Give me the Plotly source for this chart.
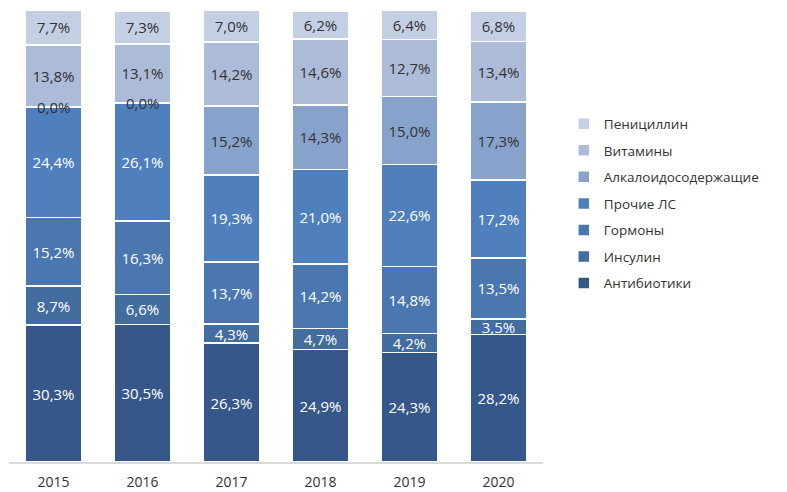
import plotly.graph_objects as go

years = ["2015", "2016", "2017", "2018", "2019", "2020"]

series_names = ["Антибиотики", "Инсулин", "Гормоны", "Прочие ЛС",
                "Алкалоидосодержащие", "Витамины", "Пенициллин"]

antibiotiki = [30.3, 30.5, 26.3, 24.9, 24.3, 28.2]
insulin = [8.7, 6.6, 4.3, 4.7, 4.2, 3.5]
gormony = [15.2, 16.3, 13.7, 14.2, 14.8, 13.5]
prochie = [24.4, 26.1, 19.3, 21.0, 22.6, 17.2]
alkaloid = [0.0, 0.0, 15.2, 14.3, 15.0, 17.3]
vitaminy = [13.8, 13.1, 14.2, 14.6, 12.7, 13.4]
penicillin = [7.7, 7.3, 7.0, 6.2, 6.4, 6.8]

series_values = [antibiotiki, insulin, gormony, prochie, alkaloid, vitaminy, penicillin]
colors = ["#36578a", "#436c9f", "#4a77b0", "#4f80bd", "#88a3cb", "#abbbd8", "#c5cfe4"]
text_colors = ["white", "white", "white", "white", "#333333", "#333333", "#333333"]

FONT = "Open Sans"

def fmt(v):
    return f"{v:.1f}".replace(".", ",") + "%"

fig = go.Figure()
n = len(series_names)
for i, (name, vals) in enumerate(zip(series_names, series_values)):
    fig.add_trace(go.Bar(
        x=years, y=vals, name=name,
        marker=dict(color=colors[i], line=dict(color="white", width=1.5)),
        text=[fmt(v) for v in vals],
        textposition="inside", insidetextanchor="middle",
        textfont=dict(color=text_colors[i], size=15, family=FONT),
        legendgroup=name, legendrank=n - i,
    ))

# labels for zero-height segments (x given as category index)
annotations = []
for j, yr in enumerate(years):
    cum = 0
    for i, vals in enumerate(series_values):
        if vals[j] == 0:
            annotations.append(dict(x=j, y=cum, text=fmt(vals[j]), showarrow=False,
                                    font=dict(color="#333333", size=15, family=FONT),
                                    xref="x", yref="y"))
        cum += vals[j]

fig.update_layout(
    width=779, height=484,
    barmode="stack", bargap=0.37,
    plot_bgcolor="white", paper_bgcolor="white",
    margin=dict(l=1, r=244, t=2, b=30, autoexpand=False),
    font=dict(family=FONT, color="#333333", size=14),
    uniformtext=dict(minsize=15, mode="show"),
    showlegend=True,
    legend=dict(x=1.039, xanchor="left", y=0.572, yanchor="middle",
                traceorder="grouped", tracegroupgap=6,
                font=dict(size=13.5, color="#333333", family=FONT)),
    xaxis=dict(type="category", range=[-0.5, 5.5], automargin=False,
               showline=True, linecolor="#d9d9d9", linewidth=2,
               ticks="outside", ticklen=6, tickcolor="rgba(0,0,0,0)",
               tickfont=dict(size=14, color="#333333", family=FONT)),
    yaxis=dict(range=[0, 100.1], visible=False, showgrid=False, automargin=False),
    annotations=annotations,
)

fig.write_html("out.html")
